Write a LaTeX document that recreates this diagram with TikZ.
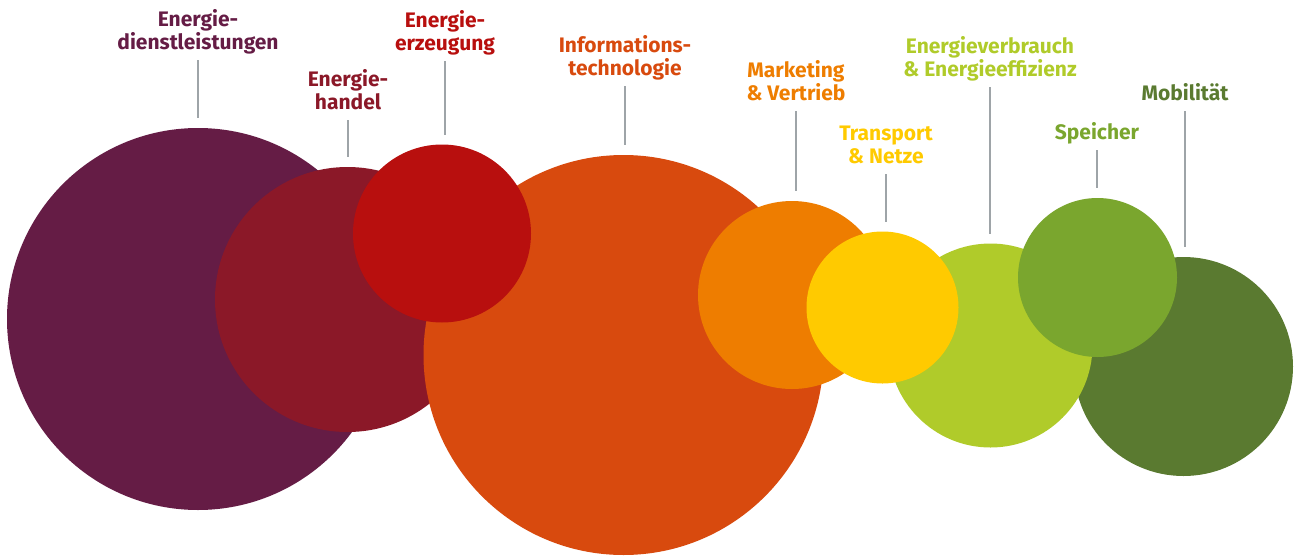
\documentclass[tikz,border=0pt]{standalone}
\usepackage{fontspec}
\setmainfont{Fira Sans}
\definecolor{dlpurple}{HTML}{651C45}
\definecolor{hdred}{HTML}{8B1828}
\definecolor{ezred}{HTML}{B80F0E}
\definecolor{itorange}{HTML}{D84A0E}
\definecolor{mvorange}{HTML}{EE7D00}
\definecolor{tnyellow}{HTML}{FFCA00}
\definecolor{evgreen}{HTML}{B0CB2A}
\definecolor{spgreen}{HTML}{7AA62E}
\definecolor{mbgreen}{HTML}{5A7A30}
\definecolor{leadgray}{HTML}{9EA4A8}
\begin{document}
\begin{tikzpicture}[x=1pt,y=-1pt,
    bubble/.style={circle, fill=#1, inner sep=0pt, outer sep=0pt},
    lbl/.style={text=#1, font=\bfseries\fontsize{21}{23.5}\selectfont,
      align=center, anchor=south, inner sep=0pt, text depth=0pt},
    leader/.style={draw=leadgray, line width=1.3pt, shorten >=10pt}]
  \useasboundingbox (0,0) rectangle (1294,555);
  % bubbles, back to front
  \foreach \n/\x/\y/\r/\c in {dl/198/319/191/dlpurple, hd/347.5/299.5/132.5/hdred,
      it/623.5/355/200/itorange, ez/442/233.5/89/ezred, mv/792/295/94/mvorange,
      mb/1183.5/366.5/109.5/mbgreen, ev/990.5/345.5/102/evgreen,
      sp/1097.5/277.5/79.5/spgreen, tn/882.5/307.5/76/tnyellow}
    \node [bubble=\c, minimum size=2*\r] (\n) at (\x,\y) {};
  % labels
  \node [lbl=dlpurple] (dl-t) at (198,50) {Energie-\\dienstleistungen};
  \node [lbl=hdred] (hd-t) at (348,110) {Energie-\\handel};
  \node [lbl=ezred] (ez-t) at (445,51) {Energie-\\erzeugung};
  \node [lbl=itorange] (it-t) at (625,76) {Informations-\\technologie};
  \node [lbl=mvorange] (mv-t) at (796,101) {Marketing\\\& Vertrieb};
  \node [lbl=tnyellow] (tn-t) at (886,164) {Transport\\\& Netze};
  \node [lbl=evgreen] (ev-t) at (990,77) {Energieverbrauch\\\& Energieeffizienz};
  \node [lbl=spgreen] (sp-t) at (1097,140) {Speicher};
  \node [lbl=mbgreen] (mb-t) at (1185,101) {Mobilität};
  % leader lines
  \foreach \n in {dl,hd,ez,it,mv,tn,ev,sp,mb}
    \draw [leader] ([yshift=-10pt]\n-t.south) -- (\n-t.south |- \n.north);
\end{tikzpicture}
\end{document}
